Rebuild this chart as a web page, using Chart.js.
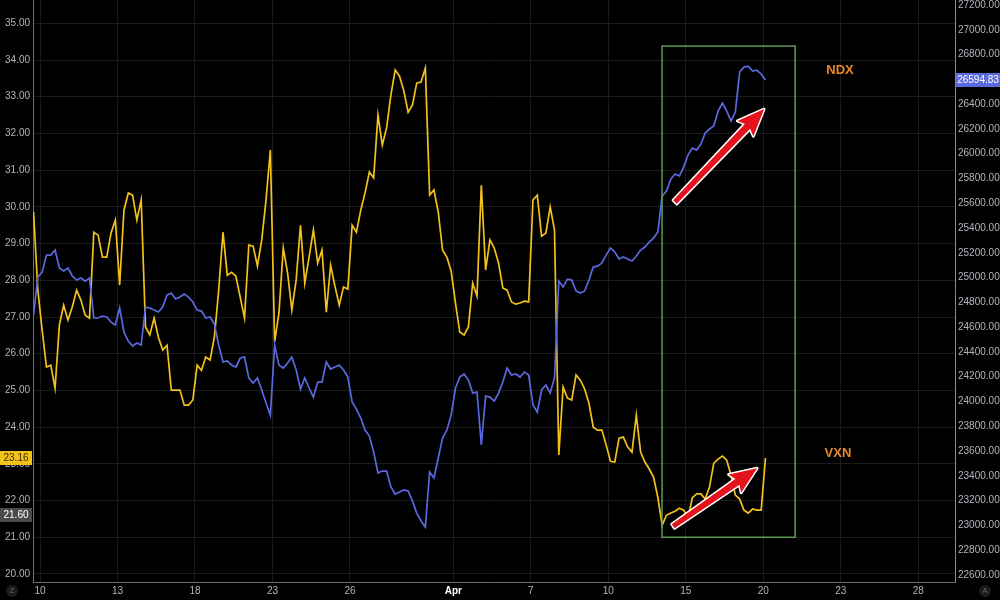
<!DOCTYPE html>
<html>
<head>
<meta charset="utf-8">
<script src="https://cdn.jsdelivr.net/npm/chart.js@4.4.1/dist/chart.umd.min.js"></script>
<style>
  html, body { margin:0; padding:0; background:#000; }
  #wrap { width:1000px; height:600px; }
</style>
</head>
<body>
<div id="wrap"><canvas id="chart" width="1000" height="600"></canvas></div>
<script>
// x is counted in trading days from Mar 10, one sample every 1/6 of a day
const START_DAY = -0.25;
const STEP_DAY = 1 / 6;

const tickDays   = [0, 3, 6, 9, 12, 16, 19, 22, 25, 28, 31, 34];
const tickLabels = ['10', '13', '18', '23', '26', 'Apr', '7', '10', '15', '20', '23', '28'];

const vxnTicks = [20, 21, 22, 23, 24, 25, 26, 27, 28, 29, 30, 31, 32, 33, 34, 35];
const ndxTicks = [22600, 22800, 23000, 23200, 23400, 23600, 23800, 24000, 24200, 24400, 24600, 24800,
                  25000, 25200, 25400, 25600, 25800, 26000, 26200, 26400, 26600, 26800, 27000, 27200];

// VXN (left scale)
const vxn = [
  29.86, 27.73, 26.64, 25.64, 25.69, 25.06, 26.78, 27.32, 26.92, 27.27,
  27.73, 27.46, 27.05, 26.97, 29.31, 29.23, 28.63, 28.63, 29.29, 29.64,
  27.87, 29.91, 30.38, 30.32, 29.64, 30.19, 26.73, 26.51, 26.97, 26.45,
  26.10, 26.23, 25.01, 25.01, 25.01, 24.60, 24.60, 24.74, 25.69, 25.55,
  25.91, 25.83, 26.45, 27.73, 29.31, 28.14, 28.22, 28.11, 27.54, 26.97,
  28.96, 28.93, 28.39, 29.10, 30.19, 31.55, 26.32, 27.11, 28.88, 28.20,
  27.19, 28.01, 29.50, 27.92, 28.63, 29.37, 28.47, 28.82, 27.13, 28.41,
  27.84, 27.32, 27.82, 27.76, 29.50, 29.31, 29.91, 30.38, 30.95, 30.79,
  32.50, 31.68, 32.15, 33.05, 33.73, 33.56, 33.16, 32.58, 32.77, 33.37,
  33.40, 33.78, 30.32, 30.46, 29.86, 28.82, 28.63, 28.25, 27.38, 26.59,
  26.51, 26.73, 27.92, 27.57, 30.59, 28.28, 29.10, 28.88, 28.47, 27.79,
  27.73, 27.41, 27.35, 27.38, 27.43, 27.41, 30.19, 30.32, 29.20, 29.29,
  30.00, 29.37, 23.24, 25.09, 24.79, 24.74, 25.42, 25.28, 25.04, 24.65,
  24.00, 23.92, 23.92, 23.51, 23.07, 23.05, 23.70, 23.73, 23.46, 23.32,
  24.33, 23.32, 23.05, 22.86, 22.64, 22.09, 21.33, 21.60, 21.66, 21.71,
  21.79, 21.74, 21.52, 22.07, 22.18, 22.18, 22.04, 22.37, 23.02, 23.13,
  23.21, 23.10, 22.69, 22.15, 22.04, 21.74, 21.66, 21.77, 21.74, 21.74,
  23.16
];

// NDX (right scale)
const ndx = [
  24698, 25005, 25045, 25182, 25182, 25222, 25077, 25053, 25077, 25013,
  24980, 24997, 24972, 24997, 24674, 24674, 24690, 24682, 24641, 24617,
  24754, 24561, 24488, 24448, 24472, 24456, 24763, 24754, 24738, 24722,
  24763, 24859, 24875, 24827, 24843, 24867, 24843, 24803, 24738, 24730,
  24674, 24682, 24625, 24456, 24319, 24327, 24294, 24278, 24351, 24359,
  24190, 24149, 24190, 24093, 23988, 23891, 24456, 24294, 24270, 24311,
  24359, 24254, 24101, 24190, 24109, 24036, 24157, 24157, 24319, 24262,
  24278, 24294, 24254, 24198, 23996, 23939, 23867, 23770, 23721, 23592,
  23423, 23439, 23439, 23310, 23253, 23270, 23286, 23278, 23197, 23100,
  23036, 22987, 23431, 23383, 23544, 23705, 23770, 23891, 24109, 24198,
  24222, 24173, 24068, 24077, 23649, 24044, 24036, 24004, 24068, 24157,
  24270, 24214, 24222, 24198, 24238, 24214, 23972, 23915, 24093, 24133,
  24068, 24190, 24972, 24924, 24988, 24980, 24892, 24875, 24892, 24980,
  25085, 25093, 25118, 25182, 25239, 25206, 25150, 25166, 25150, 25134,
  25174, 25222, 25247, 25287, 25319, 25368, 25658, 25699, 25795, 25836,
  25820, 25892, 25989, 26046, 26029, 26078, 26167, 26199, 26223, 26344,
  26409, 26344, 26264, 26336, 26659, 26699, 26707, 26667, 26675, 26643,
  26594.83
];

const toPoints = arr => arr.map((v, i) => ({ x: START_DAY + i * STEP_DAY, y: v }));

const FONT = 'Liberation Sans, Arial, sans-serif';
const AXIS_TEXT = '#b2b5be';
const GRID = '#1b1b1b';

// keep the plot glued to the canvas edges like the original
function noPad(s) {
  s.paddingTop = 0; s.paddingBottom = 0; s.paddingLeft = 0; s.paddingRight = 0;
}

function drawArrow(ctx, x1, y1, x2, y2) {
  const dx = x2 - x1, dy = y2 - y1, len = Math.hypot(dx, dy);
  const ux = dx / len, uy = dy / len, nx = -uy, ny = ux;
  const headLen = 24, headW = 11, shaftW = 3.6;
  const bx = x2 - ux * headLen, by = y2 - uy * headLen;
  ctx.beginPath();
  ctx.moveTo(x1 + nx * shaftW * 0.7, y1 + ny * shaftW * 0.7);
  ctx.lineTo(bx + nx * shaftW, by + ny * shaftW);
  ctx.lineTo(bx - ux * 3 + nx * headW, by - uy * 3 + ny * headW);
  ctx.lineTo(x2, y2);
  ctx.lineTo(bx - ux * 3 - nx * headW, by - uy * 3 - ny * headW);
  ctx.lineTo(bx - nx * shaftW, by - ny * shaftW);
  ctx.lineTo(x1 - nx * shaftW * 0.7, y1 - ny * shaftW * 0.7);
  ctx.closePath();
  ctx.lineJoin = 'round';
  ctx.strokeStyle = '#ffffff';
  ctx.lineWidth = 3;
  ctx.stroke();
  ctx.fillStyle = '#e3121b';
  ctx.fill();
}

function tag(ctx, x, y, w, text, bg, fg) {
  ctx.fillStyle = bg;
  ctx.fillRect(x, Math.round(y) - 7, w, 14);
  ctx.fillStyle = fg;
  ctx.font = '10px ' + FONT;
  ctx.textBaseline = 'middle';
  ctx.textAlign = 'center';
  ctx.fillText(text, x + w / 2, Math.round(y) + 0.5);
}

const overlay = {
  id: 'overlay',
  beforeDraw(chart) {
    const ctx = chart.ctx;
    ctx.save();
    ctx.fillStyle = '#000';
    ctx.fillRect(0, 0, chart.width, chart.height);
    ctx.restore();
  },
  afterDraw(chart) {
    const { ctx, scales: { x, yL, yR } } = chart;
    ctx.save();

    // highlight box
    const bx1 = x.getPixelForValue(24.08), bx2 = x.getPixelForValue(29.23);
    const by1 = yL.getPixelForValue(34.38), by2 = yL.getPixelForValue(21.0);
    ctx.strokeStyle = '#5f9c55';
    ctx.lineWidth = 1.5;
    ctx.strokeRect(bx1, by1, bx2 - bx1, by2 - by1);

    // arrows
    drawArrow(ctx, x.getPixelForValue(24.58), yL.getPixelForValue(30.13),
                   x.getPixelForValue(28.03), yL.getPixelForValue(32.665));
    drawArrow(ctx, x.getPixelForValue(24.51), yL.getPixelForValue(21.30),
                   x.getPixelForValue(27.76), yL.getPixelForValue(22.88));

    // series names
    ctx.fillStyle = '#e8862a';
    ctx.font = 'bold 13px ' + FONT;
    ctx.textAlign = 'center';
    ctx.textBaseline = 'middle';
    ctx.fillText('NDX', x.getPixelForValue(30.97), yL.getPixelForValue(33.73));
    ctx.fillText('VXN', x.getPixelForValue(30.89), yL.getPixelForValue(23.29));

    // last value tags
    tag(ctx, 0, yL.getPixelForValue(21.60), yL.right - 1, '21.60', '#4a4a4a', '#ffffff');
    tag(ctx, 0, yL.getPixelForValue(vxn[vxn.length - 1]), yL.right - 1,
        vxn[vxn.length - 1].toFixed(2), '#f2c21a', '#3a2f00');
    tag(ctx, yR.left + 1, yR.getPixelForValue(ndx[ndx.length - 1]), chart.width - yR.left - 1,
        ndx[ndx.length - 1].toFixed(2), '#5b6bdf', '#ffffff');

    // corner buttons
    ctx.fillStyle = '#1c1c1c';
    ctx.beginPath(); ctx.arc(12, 591, 6, 0, Math.PI * 2); ctx.fill();
    ctx.beginPath(); ctx.arc(985, 591, 6, 0, Math.PI * 2); ctx.fill();
    ctx.fillStyle = '#6a6a6a';
    ctx.font = '7px ' + FONT;
    ctx.fillText('Z', 12, 591.5);
    ctx.fillText('A', 985, 591.5);

    ctx.restore();
  }
};

new Chart(document.getElementById('chart'), {
  type: 'line',
  data: {
    datasets: [
      { label: 'NDX', data: toPoints(ndx), yAxisID: 'yR', borderColor: '#5a69e0', borderWidth: 1.7, pointRadius: 0, tension: 0 },
      { label: 'VXN', data: toPoints(vxn), yAxisID: 'yL', borderColor: '#f2c21a', borderWidth: 1.7, pointRadius: 0, tension: 0 }
    ]
  },
  options: {
    responsive: false,
    animation: false,
    devicePixelRatio: 1,
    layout: { padding: 0 },
    plugins: { legend: { display: false }, tooltip: { enabled: false } },
    scales: {
      x: {
        type: 'linear',
        min: -0.271,
        max: 35.42,
        afterBuildTicks: s => { s.ticks = tickDays.map(v => ({ value: v })); },
        afterFit: s => { s.height = 18; noPad(s); },
        ticks: {
          autoSkip: false,
          maxRotation: 0,
          padding: 3,
          callback: v => tickLabels[tickDays.indexOf(v)],
          color: c => tickLabels[c.index] === 'Apr' ? '#ffffff' : AXIS_TEXT,
          font: c => ({ family: FONT, size: 10, weight: tickLabels[c.index] === 'Apr' ? 'bold' : 'normal' })
        },
        grid: { color: GRID, drawTicks: false },
        border: { color: '#6f6f6f', width: 1 }
      },
      yL: {
        position: 'left',
        min: 19.782,
        max: 35.635,
        afterBuildTicks: s => { s.ticks = vxnTicks.map(v => ({ value: v })); },
        afterFit: s => { s.width = 33; noPad(s); },
        ticks: { padding: 3, color: AXIS_TEXT, font: { family: FONT, size: 10 }, callback: v => v.toFixed(2) },
        grid: { color: GRID, drawTicks: false },
        border: { color: '#6f6f6f', width: 1 }
      },
      yR: {
        position: 'right',
        min: 22543.6,
        max: 27240.35,
        afterBuildTicks: s => { s.ticks = ndxTicks.map(v => ({ value: v })); },
        afterFit: s => { s.width = 45; noPad(s); },
        ticks: { padding: 3, color: AXIS_TEXT, font: { family: FONT, size: 10 }, callback: v => v.toFixed(2) },
        grid: { display: false, drawTicks: false },
        border: { color: '#8a8a8a', width: 1 }
      }
    }
  },
  plugins: [overlay]
});
</script>
</body>
</html>
